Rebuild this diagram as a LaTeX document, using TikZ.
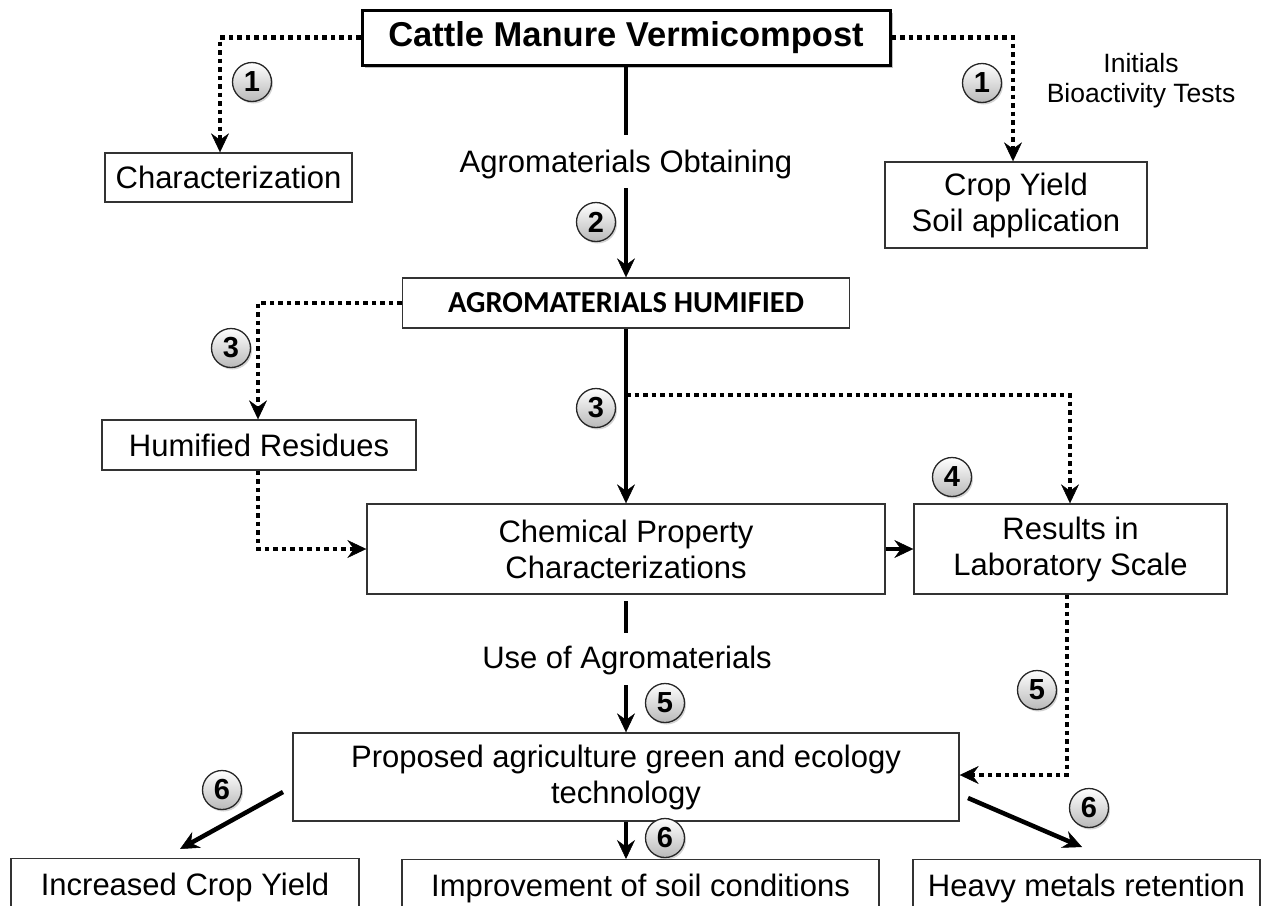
\documentclass[tikz,border=0pt]{standalone}
\usepackage{fontspec}
\setmainfont{Liberation Sans}
\newfontfamily\calibrifont{Carlito}
\usetikzlibrary{arrows.meta,shadows}
\tikzset{
  box/.style={draw=black!80, line width=1.4pt, fill=white, align=center, inner sep=0pt,
    font=\fontsize{31}{36}\selectfont},
  num/.style={circle, draw=black!85, line width=1.3pt, minimum size=39pt, inner sep=0pt,
    top color=white, bottom color=gray!55,
    drop shadow={shadow xshift=1.5pt, shadow yshift=-2pt, opacity=0.35},
    font=\fontsize{29}{29}\selectfont\bfseries},
  solidline/.style={line width=4pt},
  solidarrow/.style={line width=4pt, -{Stealth[length=19pt,width=18pt,inset=6.5pt,line width=0.5pt]}},
  dotline/.style={line width=4.5pt, dash pattern=on 4.5pt off 4pt},
  dotarrow/.style={dotline, -{Stealth[length=19pt,width=18pt,inset=6.5pt,line width=0.5pt]}},
  lbl/.style={font=\fontsize{31}{36}\selectfont, inner sep=0pt},
  bottombox/.style={box, anchor=north, text height=22pt, text depth=7pt, inner ysep=15pt},
}
\begin{document}
\begin{tikzpicture}[x=1pt,y=-1pt]
\useasboundingbox (0,0) rectangle (1261,905);

% boxes
\node[box, draw=black, line width=3pt, minimum width=528pt, minimum height=55pt,
  font=\fontsize{34.5}{40}\selectfont\bfseries,
  drop shadow={shadow xshift=3pt, shadow yshift=-3pt, opacity=0.5}] (top) at (626,37.5) {Cattle Manure Vermicompost};
\node[box, minimum width=247pt, minimum height=49pt] (char) at (228.5,177.5) {Characterization};
\node[box, minimum width=262pt, minimum height=86pt] (crop) at (1016,205) {Crop Yield\\Soil application};
\node[box, minimum width=447pt, minimum height=50pt, font=\fontsize{30.5}{36}\calibrifont\bfseries] (agro) at (626,303) {AGROMATERIALS HUMIFIED};
\node[box, minimum width=314pt, minimum height=50pt] (hum) at (259,445) {Humified Residues};
\node[box, minimum width=518pt, minimum height=90pt] (chem) at (626,549) {Chemical Property\\Characterizations};
\node[box, minimum width=313pt, minimum height=90pt] (res) at (1070.5,549) {Results in\\Laboratory Scale};
\node[box, minimum width=666pt, minimum height=88pt] (prop) at (626,777) {Proposed agriculture green and ecology\\technology};
\node[bottombox, minimum width=348pt] (inc) at (185,858) {Increased Crop Yield};
\node[bottombox, minimum width=477pt] (imp) at (640.5,859) {Improvement of soil conditions};
\node[bottombox, minimum width=347pt] (heavy) at (1086.5,859) {Heavy metals retention};

% labels
\node[lbl, anchor=base] (obt) at (626,172) {Agromaterials Obtaining};
\node[lbl, anchor=base] (use) at (627,668) {Use of Agromaterials};
\node[lbl, align=center, font=\fontsize{26.5}{30}\selectfont] (init) at (1141,80.5) {Initials\\Bioactivity Tests};

% coordinates for free ends
\coordinate (a1) at (626,135);
\coordinate (a2) at (626,188);
\coordinate (d3) at (626,395);
\coordinate (s1) at (626,601);
\coordinate (s2) at (626,633);
\coordinate (s3) at (626,685);
\coordinate (l1) at (283,792);
\coordinate (l2) at (180,849);
\coordinate (r1) at (968,798);
\coordinate (r2) at (1082,847);

% connectors
\draw[dotarrow] (top.west) -| ([xshift=-8.5pt]char.north);
\draw[dotarrow] (top.east) -| ([xshift=-3pt]crop.north);
\draw[solidline] (top.south) -- (a1);
\draw[solidarrow] (a2) -- (agro.north);
\draw[dotarrow] (agro.west) -| ([xshift=-1pt]hum.north);
\draw[dotarrow] ([xshift=-1pt]hum.south) |- (chem.west);
\draw[solidarrow] (agro.south) -- (chem.north);
\draw[dotarrow] (d3) -| ([xshift=-0.5pt]res.north);
\draw[solidarrow] (chem.east) -- (res.west);
\draw[solidline] (s1) -- (s2);
\draw[solidarrow] (s3) -- (prop.north);
\draw[dotarrow] ([xshift=-3.5pt]res.south) |- ([yshift=2pt]prop.east);
\draw[solidarrow] (prop.south) -- (prop.south |- imp.north);
\draw[solidarrow, line width=4.5pt] (l1) -- (l2);
\draw[solidarrow, line width=4.5pt] (r1) -- (r2);

% numbered circles
\node[num] (n1a) at (252,82) {1};
\node[num] (n1b) at (982,83) {1};
\node[num] (n2) at (596,222) {2};
\node[num] (n3a) at (231,348) {3};
\node[num] (n3b) at (596,408) {3};
\node[num] (n4) at (952,477) {4};
\node[num] (n5a) at (665,703) {5};
\node[num] (n5b) at (1037,690) {5};
\node[num] (n6a) at (222,790) {6};
\node[num] (n6b) at (665,838) {6};
\node[num] (n6c) at (1089,808) {6};
\end{tikzpicture}
\end{document}
